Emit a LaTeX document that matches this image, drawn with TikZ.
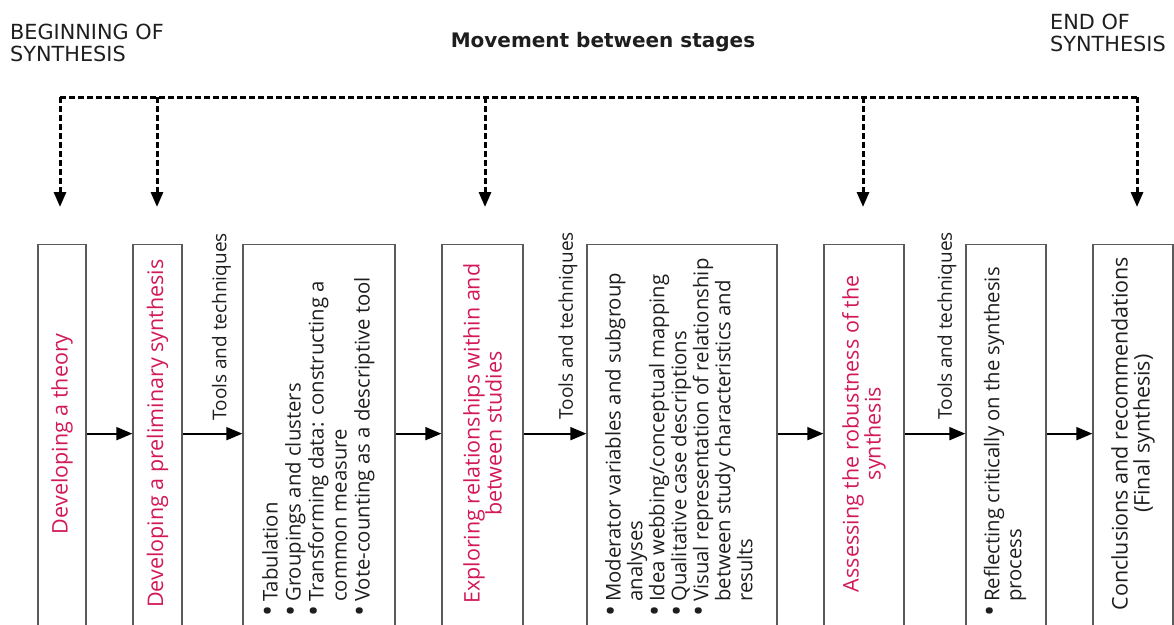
\documentclass[tikz,border=0pt]{standalone}
\usepackage{fontspec}
\setmainfont{Open Sans}
\newfontfamily\verdfont{DejaVu Sans}
\usetikzlibrary{arrows.meta,calc}
\definecolor{stagered}{RGB}{210,25,90}
\definecolor{boxgray}{RGB}{90,90,90}
\definecolor{ink}{RGB}{30,30,30}
\newcommand\bigblt{\raisebox{-0.12ex}{\scalebox{1.45}{\textbullet}}}
\begin{document}
\begin{tikzpicture}[x=1pt,y=-1pt,
  stagebox/.style={draw=boxgray, line width=1.3pt, inner sep=0pt, minimum height=386pt, anchor=north},
  stagetxt/.style={rotate=90, text=stagered, font=\fontsize{21.5}{22}\selectfont, align=center, inner sep=0pt},
  listtxt/.style={rotate=90, anchor=west, inner sep=0pt, text=ink},
  toolstxt/.style={rotate=90, anchor=east, inner sep=0pt, text=ink, font=\fontsize{19}{20}\selectfont},
  toptxt/.style={inner sep=0pt, text=ink, font=\verdfont\fontsize{20.8}{22}\selectfont, align=left},
  flow/.style={draw=black, line width=1.8pt, -{Triangle[length=16pt,width=13pt]}},
  move/.style={draw=black, line width=3pt, dash pattern=on 6pt off 3pt},
  movearrow/.style={move, -{Triangle[length=15pt,width=12pt]}}
]
\useasboundingbox (0,0) rectangle (1174,624);
\clip (0,0) rectangle (1174,624);

% boxes
\node[stagebox, minimum width=48pt]  (b1) at (62,244) {};
\node[stagebox, minimum width=49pt]  (b2) at (157.5,244) {};
\node[stagebox, minimum width=152pt] (b3) at (319,244) {};
\node[stagebox, minimum width=81pt]  (b4) at (482.5,244) {};
\node[stagebox, minimum width=190pt] (b5) at (682,244) {};
\node[stagebox, minimum width=80pt]  (b6) at (864,244) {};
\node[stagebox, minimum width=80pt]  (b7) at (1006,244) {};
\node[stagebox, minimum width=80pt]  (b8) at (1133,244) {};

% stage texts
\node[stagetxt] (s1) at ([yshift=4pt]b1.center) {Developing a theory};
\node[stagetxt] (s2) at ([yshift=4pt]b2.center) {Developing a preliminary synthesis};
\node[stagetxt] (s4) at ([yshift=4pt]b4.center) {Exploring relationships within and\\between studies};
\node[stagetxt] (s6) at ([yshift=4pt]b6.center) {Assessing the robustness of the\\synthesis};
\node[stagetxt, text=ink] (s8) at ([yshift=4pt]b8.center) {Conclusions and recommendations\\(Final synthesis)};

% lists
\node[listtxt, font=\fontsize{20.3}{23}\selectfont] (l3) at (b3.north |- 0,617) {%
\begin{tabular}{@{}l@{\hspace{4pt}}l@{}}
\bigblt&Tabulation\\
\bigblt&Groupings and clusters\\
\bigblt&Transforming data: constructing a\\
&common measure\\
\bigblt&Vote-counting as a descriptive tool
\end{tabular}};
\node[listtxt, font=\fontsize{20.3}{21.8}\selectfont] (l5) at (b5.north |- 0,617) {%
\begin{tabular}{@{}l@{\hspace{4pt}}l@{}}
\bigblt&Moderator variables and subgroup\\
&analyses\\
\bigblt&Idea webbing/conceptual mapping\\
\bigblt&Qualitative case descriptions\\
\bigblt&Visual representation of relationship\\
&between study characteristics and\\
&results
\end{tabular}};
\node[listtxt, font=\fontsize{20.3}{22}\selectfont] (l7) at (b7.north |- 0,617) {%
\begin{tabular}{@{}l@{\hspace{4pt}}l@{}}
\bigblt&Reflecting critically on the synthesis\\
&process
\end{tabular}};

% tools labels
\node[toolstxt] (k1) at (221.5,233) {Tools and techniques};
\node[toolstxt] (k2) at (568,232) {Tools and techniques};
\node[toolstxt] (k3) at (947,232) {Tools and techniques};

% flow arrows
\draw[flow] ([yshift=4pt]b1.east) -- ([yshift=4pt]b2.west);
\draw[flow] ([yshift=4pt]b2.east) -- ([yshift=4pt]b3.west);
\draw[flow] ([yshift=4pt]b3.east) -- ([yshift=4pt]b4.west);
\draw[flow] ([yshift=4pt]b4.east) -- ([yshift=4pt]b5.west);
\draw[flow] ([yshift=4pt]b5.east) -- ([yshift=4pt]b6.west);
\draw[flow] ([yshift=4pt]b6.east) -- ([yshift=4pt]b7.west);
\draw[flow] ([yshift=4pt]b7.east) -- ([yshift=4pt]b8.west);

% movement between stages
\coordinate (m1) at (60,97);
\coordinate (m8) at (1137,97);
\draw[move] (m1) -- (m8);
\draw[movearrow] (m1) -- (60,207);
\draw[movearrow] (157,97) -- (157,207);
\draw[movearrow] (485,97) -- (485,207);
\draw[movearrow] (863,97) -- (863,207);
\draw[movearrow] (m8) -- (1137,207);

% top labels
\node[toptxt, anchor=north west] (beg) at (10,24) {BEGINNING OF\\SYNTHESIS};
\node[toptxt, anchor=north west] (end) at (1050,14) {END OF\\SYNTHESIS};
\node[inner sep=0pt, text=ink, font=\verdfont\bfseries\fontsize{20}{22}\selectfont, anchor=base] (mv) at (603,47) {Movement between stages};
\end{tikzpicture}
\end{document}
